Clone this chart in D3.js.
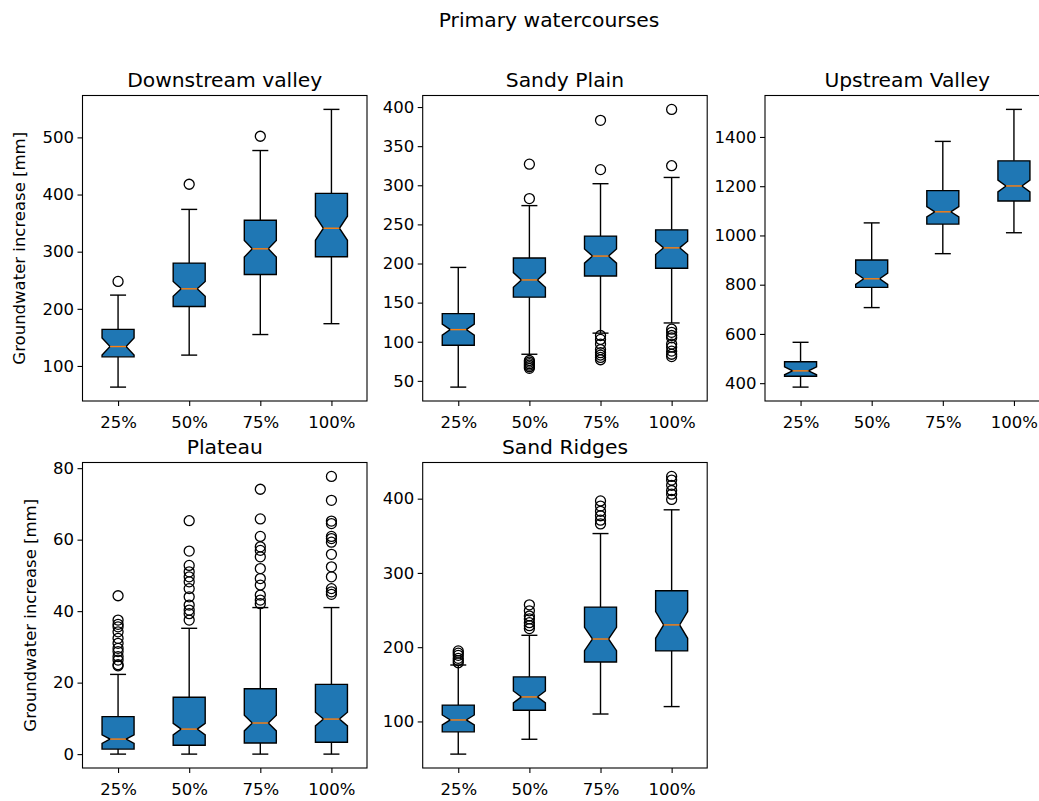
<!DOCTYPE html>
<html>
<head>
<meta charset="utf-8">
<script src="https://cdn.jsdelivr.net/npm/d3@7"></script>
<style>
  html, body { margin: 0; padding: 0; background: #fff; overflow: hidden; }
  svg { display: block; font-family: "DejaVu Sans", sans-serif; }
</style>
</head>
<body>
<svg id="chart" width="1039" height="801"></svg>
<script>
// Scenario categories on the x axis of every panel
const categories = ["25%", "50%", "75%", "100%"];

// Landscape units, one panel each
const panelTitles = ["Downstream valley", "Sandy Plain", "Upstream Valley", "Plateau", "Sand Ridges"];

// Box-plot statistics, one row per panel, one value per category (mm)
const whiskerLow = [
  [63, 119, 155, 174],
  [42, 84, 111, 124],
  [384, 707, 926, 1011],
  [0, 0, 0, 0],
  [56, 76, 110, 120]
];
const quartile1 = [
  [116, 204, 260, 291],
  [95.5, 157, 184, 194],
  [428, 789, 1046, 1140],
  [1.4, 2.5, 3.1, 3.3],
  [86, 115, 180, 195]
];
const medians = [
  [134, 235, 305, 341],
  [115.5, 179, 209.5, 220],
  [450, 824, 1096, 1201],
  [4.2, 7.0, 8.7, 9.8],
  [102, 133, 211, 230]
];
const quartile3 = [
  [164, 280, 355, 402],
  [136, 207, 235, 243],
  [487, 900, 1182, 1303],
  [10.5, 15.9, 18.3, 19.5],
  [122, 160, 254, 276]
];
const whiskerHigh = [
  [224, 374, 477, 549],
  [195, 274, 302, 310],
  [566, 1051, 1382, 1512],
  [22.3, 35.2, 41, 41],
  [176, 216, 353, 385]
];
// Half-width of the median confidence interval (notch)
const notchHalf = [
  [15, 13, 14.5, 21],
  [7, 9.4, 9, 8.5],
  [16, 23, 21, 24],
  [1.2, 1.6, 2.2, 1.9],
  [6.7, 8, 15.7, 18]
];
// Outliers beyond the whiskers
const fliers = [
  [[248], [418], [502], []],
  [[], [327, 283, 76, 74, 72, 70, 68, 66],
   [383, 320, 108, 103, 97, 90, 86, 83, 80, 77],
   [397, 325, 116, 112, 108, 105, 97, 93, 88, 84, 81]],
  [[], [], [], []],
  [[44.3, 37.5, 36.3, 35.6, 34.2, 32.4, 31, 29.6, 28.7, 27.3, 26.3, 25, 24.7],
   [65.3, 56.8, 52.8, 51, 49.6, 48.2, 46.3, 44, 41.7, 40.3, 39.3, 37.5],
   [74.1, 65.8, 60.9, 58, 57, 55.2, 51.9, 49.1, 47.3, 44.5, 43.1, 42.1],
   [77.7, 71, 65.2, 64.5, 60.9, 60.3, 59.3, 55.9, 52.4, 49.6, 46.3, 45.4, 44.7]],
  [[195, 192, 189, 185, 182, 179],
   [257, 249, 242, 238, 233, 229, 225],
   [397, 390, 383, 377, 371, 366],
   [430, 425, 418, 411, 406, 399]]
];
// Y tick values per panel
const yTicks = [
  [100, 200, 300, 400, 500],
  [50, 100, 150, 200, 250, 300, 350, 400],
  [400, 600, 800, 1000, 1200, 1400],
  [0, 20, 40, 60, 80],
  [100, 200, 300, 400]
];

const suptitle = "Primary watercourses";
const yLabel = "Groundwater increase [mm]";

// ---- layout ----
const colLeft = [82.5, 422.7, 765];
const rowTop = [95.5, 462.5];
const axW = 284.5, axH = 305.5;
const panelCell = [[0, 0], [0, 1], [0, 2], [1, 0], [1, 1]];
const tickFont = 16.5, titleFont = 20.3;
const boxWidth = 0.45;               // in category units
const blue = "#1f77b4", orange = "#ff7f0e";

const svg = d3.select("#chart");

svg.append("text")
  .attr("x", 549).attr("y", 26.7)
  .attr("text-anchor", "middle")
  .attr("font-size", titleFont)
  .attr("fill", "#000")
  .text(suptitle);

panelTitles.forEach((title, p) => {
  const [r, c] = panelCell[p];
  const g = svg.append("g").attr("transform", `translate(${colLeft[c]},${rowTop[r]})`);

  const x = d3.scaleLinear().domain([0.5, categories.length + 0.5]).range([0, axW]);

  // y extent from whiskers and fliers with a 5% margin on both ends
  const allVals = [...whiskerLow[p], ...whiskerHigh[p], ...fliers[p].flat()];
  const lo = d3.min(allVals), hi = d3.max(allVals);
  const pad = (hi - lo) * 0.05;
  const y = d3.scaleLinear().domain([lo - pad, hi + pad]).range([axH, 0]);

  const plot = g.append("g");

  categories.forEach((cat, i) => {
    const pos = i + 1;
    const bl = x(pos - boxWidth / 2), br = x(pos + boxWidth / 2);
    const nl = x(pos - boxWidth / 4), nr = x(pos + boxWidth / 4);
    const q1 = quartile1[p][i], q3 = quartile3[p][i], med = medians[p][i];
    const ciLo = med - notchHalf[p][i], ciHi = med + notchHalf[p][i];
    const cx = x(pos);

    // whiskers and caps
    const wl = whiskerLow[p][i], wh = whiskerHigh[p][i];
    [[q1, wl], [q3, wh]].forEach(([a, b]) => {
      plot.append("line")
        .attr("x1", cx).attr("x2", cx)
        .attr("y1", y(a)).attr("y2", y(b))
        .attr("stroke", "#000").attr("stroke-width", 1.4);
      plot.append("line")
        .attr("x1", nl).attr("x2", nr)
        .attr("y1", y(b)).attr("y2", y(b))
        .attr("stroke", "#000").attr("stroke-width", 1.4);
    });

    // notched box
    const pts = [
      [bl, q1], [br, q1], [br, ciLo], [nr, med], [br, ciHi], [br, q3],
      [bl, q3], [bl, ciHi], [nl, med], [bl, ciLo]
    ].map(([px, v]) => [px, y(v)]);
    plot.append("path")
      .attr("d", d3.line()(pts) + "Z")
      .attr("fill", blue)
      .attr("stroke", "#000")
      .attr("stroke-width", 1.4)
      .attr("stroke-linejoin", "miter");

    // median
    plot.append("line")
      .attr("x1", nl).attr("x2", nr)
      .attr("y1", y(med)).attr("y2", y(med))
      .attr("stroke", orange).attr("stroke-width", 1.4);

    // outliers
    plot.selectAll(null)
      .data(fliers[p][i])
      .enter().append("circle")
      .attr("cx", cx).attr("cy", d => y(d))
      .attr("r", 5)
      .attr("fill", "none")
      .attr("stroke", "#000")
      .attr("stroke-width", 1.3);
  });

  // axes
  const yAxis = d3.axisLeft(y).tickValues(yTicks[p]).tickSize(5).tickPadding(3.5).tickFormat(d3.format("d"));
  const xAxis = d3.axisBottom(x).tickValues(categories.map((_, i) => i + 1))
    .tickFormat((d, i) => categories[i]).tickSize(5).tickPadding(10);

  const ya = g.append("g").call(yAxis);
  const xa = g.append("g").attr("transform", `translate(0,${axH})`).call(xAxis);
  [ya, xa].forEach(a => {
    a.select(".domain").remove();
    a.selectAll(".tick line").attr("stroke", "#000").attr("stroke-width", 1.1);
    a.selectAll(".tick text").attr("font-size", tickFont).attr("fill", "#000")
      .attr("font-family", "DejaVu Sans, sans-serif");
  });

  // frame
  g.append("rect")
    .attr("x", 0).attr("y", 0).attr("width", axW).attr("height", axH)
    .attr("fill", "none").attr("stroke", "#000").attr("stroke-width", 1.1);

  // panel title
  g.append("text")
    .attr("x", axW / 2).attr("y", -9)
    .attr("text-anchor", "middle")
    .attr("font-size", titleFont)
    .attr("fill", "#000")
    .text(title);

  // y label on the first column
  if (c === 0) {
    const lx = (r === 0 ? 25 : 35.5) - colLeft[c];
    g.append("text")
      .attr("transform", `translate(${lx},${axH / 2}) rotate(-90)`)
      .attr("text-anchor", "middle")
      .attr("font-size", tickFont)
      .attr("fill", "#000")
      .text(yLabel);
  }
});
</script>
</body>
</html>
